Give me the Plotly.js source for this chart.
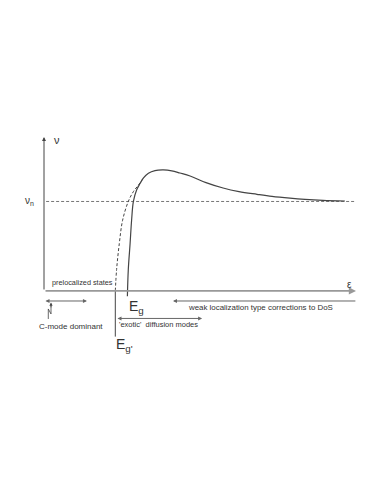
<!DOCTYPE html>
<html>
<head>
<meta charset="utf-8">
<script src="https://cdn.plot.ly/plotly-3.0.1.min.js"></script>
<style>
html,body{margin:0;padding:0;background:#fff;}
#chart{width:379px;height:491px;}
</style>
</head>
<body>
<div id="chart"></div>
<script>
// Energy (epsilon) and nu values read from the schematic (nu normalised so nu_n = 1)
const solidEps = [2.78, 2.81, 2.87, 2.92, 2.98, 3.09, 3.20, 3.31, 3.48, 3.70, 3.98, 4.26, 4.53, 4.87, 5.40, 5.97, 6.50, 7.10, 7.60, 8.20, 8.70, 9.30, 10.03];
const solidNu  = [-0.06, 0.24, 0.53, 0.79, 1.00, 1.13, 1.20, 1.26, 1.315, 1.345, 1.352, 1.342, 1.318, 1.285, 1.21, 1.15, 1.11, 1.08, 1.057, 1.037, 1.024, 1.013, 1.005];
const dashEps  = [2.377, 2.42, 2.51, 2.62, 2.81, 2.98, 3.14, 3.31];
const dashNu   = [0.0, 0.24, 0.53, 0.79, 1.00, 1.11, 1.18, 1.26];
const nuN = 1.0;
const nuNLineEps = [0.07, 10.37];
const Eg = 2.78;
const EgPrime = 2.377;
const EgPrimeMarkerNu = [0.0, -0.51];
const zigEps = [0.143, 0.143, 0.233, 0.233];
const zigNu  = [-0.313, -0.201, -0.257, -0.16];
const axisEndEps = 10.4;
const axisTopNu = 1.72;
const cModeRange = [0.0, 1.43];
const exoticRange = [2.4, 5.27];
const weakRange = [4.3, 10.43];
const labels = {
  nu: "ν", nuN: "ν<sub>n</sub>", eps: "ε",
  preloc: "prelocalized states", cmode: "C-mode dominant",
  exotic: "'exotic'  diffusion modes", weak: "weak localization type corrections to DoS",
  Eg: "E<sub>g</sub>", EgP: "E<sub>g'</sub>"
};

const txtCol = '#333';
const font = 'Liberation Sans, Arial, sans-serif';

const traces = [
  {x: nuNLineEps, y: [nuN, nuN], mode: 'lines', line: {color: '#777', width: 1, dash: '3px,2px'}, hoverinfo: 'skip'},
  {x: dashEps, y: dashNu, mode: 'lines', line: {color: '#444', width: 1, dash: '3px,2px', shape: 'spline', smoothing: 1}, hoverinfo: 'skip'},
  {x: [EgPrime, EgPrime], y: EgPrimeMarkerNu, mode: 'lines', line: {color: '#444', width: 1}, hoverinfo: 'skip'},
  {x: solidEps, y: solidNu, mode: 'lines', line: {color: '#444', width: 1.2, shape: 'spline', smoothing: 1}, hoverinfo: 'skip'},
  {x: zigEps, y: zigNu, mode: 'lines', line: {color: '#444', width: 0.8}, hoverinfo: 'skip'}
];

function arrow(x0, y0, x1, y1, side, col, w) {
  return {x: x1, y: y1, ax: x0, ay: y0, xref: 'x', yref: 'y', axref: 'x', ayref: 'y',
    text: '', showarrow: true, arrowhead: 2, startarrowhead: 2, arrowsize: 0.8, startarrowsize: 0.8,
    arrowwidth: w || 1, arrowcolor: col || '#444', arrowside: side || 'end'};
}
function label(x, y, text, size, xa, ya) {
  return {x: x, y: y, xref: 'x', yref: 'y', text: text, showarrow: false,
    xanchor: xa || 'center', yanchor: ya || 'middle', font: {family: font, size: size, color: txtCol}};
}

const annotations = [
  arrow(0, 0, 0, axisTopNu, 'end', '#444', 1),
  arrow(0, 0, axisEndEps, 0, 'end', '#999', 1.8),
  arrow(cModeRange[0], -0.112, cModeRange[1], -0.112, 'end+start', '#666', 1),
  arrow(exoticRange[0], -0.307, exoticRange[1], -0.307, 'end+start', '#666', 1),
  arrow(weakRange[1], -0.112, weakRange[0], -0.112, 'end', '#666', 1),
  arrow(zigEps[3], -0.2, zigEps[3], -0.13, 'end', '#444', 0.8),
  label(0.25, 1.69, labels.nu, 11, 'left'),
  label(-0.47, nuN, labels.nuN, 10, 'center'),
  label(10.2, 0.07, labels.eps, 10, 'center'),
  label(1.27, 0.095, labels.preloc, 7.3, 'center'),
  label(0.9, -0.402, labels.cmode, 8, 'center'),
  label(3.8, -0.374, labels.exotic, 7.5, 'center'),
  label(7.22, -0.184, labels.weak, 7.9, 'center'),
  label(Eg - 0.03, -0.18, labels.Eg, 14, 'left'),
  label(EgPrime - 0.05, -0.6, labels.EgP, 14, 'left')
];

const layout = {
  width: 379, height: 491,
  margin: {l: 0, r: 0, t: 0, b: 0},
  paper_bgcolor: '#fff', plot_bgcolor: '#fff',
  showlegend: false,
  xaxis: {range: [-1.467, 11.167], visible: false, fixedrange: true},
  yaxis: {range: [-2.235, 3.251], visible: false, fixedrange: true},
  annotations: annotations
};

Plotly.newPlot('chart', traces, layout, {staticPlot: true});
</script>
</body>
</html>
